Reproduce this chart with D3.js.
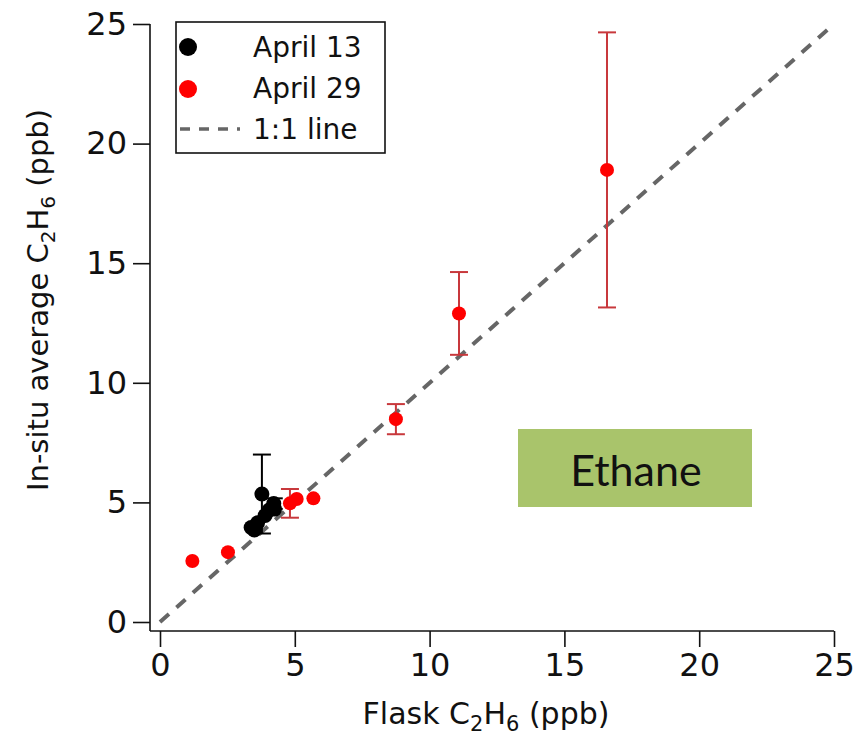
<!DOCTYPE html>
<html>
<head>
<meta charset="utf-8">
<script src="https://cdn.jsdelivr.net/npm/d3@7"></script>
<style>
  body { margin: 0; background: #fff; }
  svg text { font-family: "DejaVu Sans", sans-serif; fill: #111; }
</style>
</head>
<body>
<div id="chart"></div>
<script>
// flask vs in-situ ethane, ppb
const april13Flask = [3.78, 4.22, 4.25, 4.05, 3.9, 3.62, 3.38, 3.5];
const april13Insitu = [5.35, 4.95, 4.72, 4.68, 4.45, 4.15, 3.95, 3.85];
const april13Err = [1.65, 0.22, 0, 0, 0, 0, 0, 0];

const april29Flask = [1.2, 2.52, 4.82, 5.07, 5.69, 8.75, 11.09, 16.58];
const april29Insitu = [2.55, 2.92, 4.96, 5.14, 5.17, 8.48, 12.9, 18.9];
const april29Err = [0, 0, 0.6, 0, 0, 0.63, 1.73, 5.75];

const tickValues = [0, 5, 10, 15, 20, 25];
const legendLabels = ['April 13', 'April 29', '1:1 line'];

const width = 865, height = 749;
const svg = d3.select('#chart').append('svg')
  .attr('width', width).attr('height', height);

const x = d3.scaleLinear().domain([0, 25]).range([160, 834]);
const y = d3.scaleLinear().domain([0, 25]).range([622, 24]);

// axes are offset from the data origin, Igor style
const xAxisY = 631, yAxisX = 150;

const xAxis = svg.append('g').attr('transform', `translate(0,${xAxisY})`)
  .call(d3.axisBottom(x).tickValues(tickValues).tickSize(16).tickPadding(6).tickSizeOuter(0));
xAxis.select('.domain').attr('d', `M${yAxisX},0H${x(25)}`);

const yAxis = svg.append('g').attr('transform', `translate(${yAxisX},0)`)
  .call(d3.axisLeft(y).tickValues(tickValues).tickSize(17).tickPadding(6).tickSizeOuter(0));
yAxis.select('.domain').attr('d', `M0,${xAxisY}V${y(25)}`);

svg.selectAll('.tick text').attr('font-size', 32).attr('font-family', '"DejaVu Sans", sans-serif').attr('fill', '#111');
svg.selectAll('.tick line, .domain').attr('stroke', '#111').attr('stroke-width', 1.6);

// axis titles
const xt = svg.append('text').attr('x', 486).attr('y', 724)
  .attr('text-anchor', 'middle').attr('font-size', 30);
xt.append('tspan').text('Flask C');
xt.append('tspan').text('2').attr('font-size', 21).attr('dy', 7);
xt.append('tspan').text('H').attr('dy', -7);
xt.append('tspan').text('6').attr('font-size', 21).attr('dy', 7);
xt.append('tspan').text(' (ppb)').attr('dy', -7);

const yt = svg.append('text').attr('transform', 'translate(48,300) rotate(-90)')
  .attr('text-anchor', 'middle').attr('font-size', 29);
yt.append('tspan').text('In-situ average C');
yt.append('tspan').text('2').attr('font-size', 20).attr('dy', 7);
yt.append('tspan').text('H').attr('dy', -7);
yt.append('tspan').text('6').attr('font-size', 20).attr('dy', 7);
yt.append('tspan').text(' (ppb)').attr('dy', -7);

// 1:1 line
svg.append('line')
  .attr('x1', x(0)).attr('y1', y(0)).attr('x2', x(25)).attr('y2', y(25))
  .attr('stroke', '#666').attr('stroke-width', 4).attr('stroke-dasharray', '12,10');

function drawSeries(fx, fy, ferr, color, barColor, r) {
  const pts = fx.map((d, i) => ({ x: d, y: fy[i], e: ferr[i] }));
  const g = svg.append('g');
  const eb = g.selectAll('g.eb').data(pts.filter(d => d.e > 0)).enter().append('g');
  eb.append('line')
    .attr('x1', d => x(d.x)).attr('x2', d => x(d.x))
    .attr('y1', d => y(d.y - d.e)).attr('y2', d => y(d.y + d.e))
    .attr('stroke', barColor).attr('stroke-width', 2);
  [-1, 1].forEach(s => {
    eb.append('line')
      .attr('x1', d => x(d.x) - 9).attr('x2', d => x(d.x) + 9)
      .attr('y1', d => y(d.y + s * d.e)).attr('y2', d => y(d.y + s * d.e))
      .attr('stroke', barColor).attr('stroke-width', 2);
  });
  g.selectAll('circle').data(pts).enter().append('circle')
    .attr('cx', d => x(d.x)).attr('cy', d => y(d.y)).attr('r', r)
    .attr('fill', color);
}
drawSeries(april29Flask, april29Insitu, april29Err, '#ff0000', '#c8383c', 7);
drawSeries(april13Flask, april13Insitu, april13Err, '#000', '#000', 7.5);

// legend
const lg = svg.append('g');
lg.append('rect').attr('x', 176).attr('y', 22).attr('width', 209).attr('height', 131)
  .attr('fill', '#fff').attr('stroke', '#111').attr('stroke-width', 1.6);
lg.append('circle').attr('cx', 188).attr('cy', 47).attr('r', 9).attr('fill', '#000');
lg.append('circle').attr('cx', 188).attr('cy', 89).attr('r', 9).attr('fill', '#ff0000');
lg.append('line').attr('x1', 180).attr('x2', 240).attr('y1', 129).attr('y2', 129)
  .attr('stroke', '#666').attr('stroke-width', 3.5).attr('stroke-dasharray', '10,9');
lg.selectAll('text.lt').data(legendLabels).enter().append('text')
  .attr('x', 253).attr('y', (d, i) => 57 + i * 41)
  .attr('font-size', 28).text(d => d);

// Ethane label box
svg.append('rect').attr('x', 518).attr('y', 429).attr('width', 234).attr('height', 78)
  .attr('fill', '#a9c46b');
svg.append('text').attr('x', 636).attr('y', 486).attr('text-anchor', 'middle')
  .attr('font-size', 43).style('font-family', 'Lato, "Open Sans", sans-serif').text('Ethane');
</script>
</body>
</html>
